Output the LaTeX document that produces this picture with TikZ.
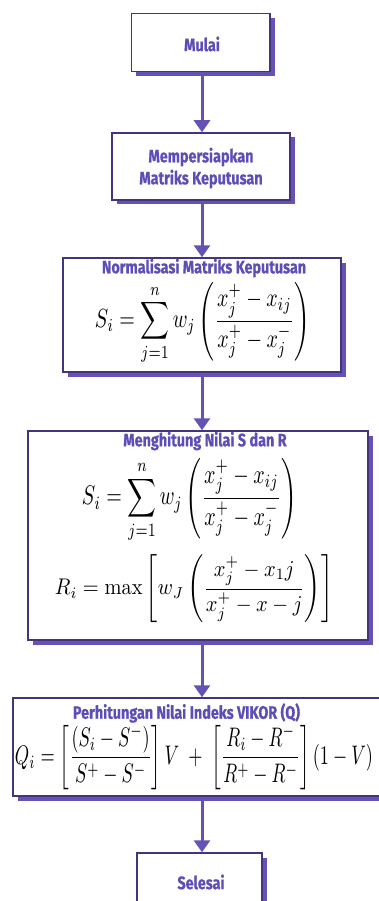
\documentclass[tikz,border=0pt]{standalone}
\usepackage{amsmath}
\usepackage{graphicx}
\usepackage{fontspec}
\newfontfamily\titlefont[FakeStretch=0.8, BoldFeatures={FakeBold=0.6}]{Fira Sans}
\usetikzlibrary{arrows.meta,shadows}
\definecolor{boxline}{HTML}{45337F}
\definecolor{shade}{HTML}{6652B5}
\definecolor{txt}{HTML}{5D4DB6}
\definecolor{arrowc}{HTML}{6652B5}
\begin{document}
\begin{tikzpicture}[x=1pt,y=-1pt,
  box/.style={draw=boxline, line width=1.5pt, fill=white, rectangle, inner sep=0pt,
    drop shadow={shadow xshift=4.5pt, shadow yshift=-4.5pt, fill=shade, opacity=1}},
  ttl/.style={text=txt, font=\titlefont\bfseries\fontsize{18}{22}\selectfont, align=center, inner sep=0pt},
  flow/.style={draw=arrowc, line width=3pt, -{Triangle[length=12pt,width=16pt]}},
  eq/.style={inner sep=0pt}]
\useasboundingbox (0,0) rectangle (378,901);
\coordinate (axis) at (202,0);
% boxes
\node[box, minimum width=138.5pt, minimum height=58pt] (b1) at (200.75,42.5) {};
\node[box, minimum width=178pt, minimum height=67pt] (b2) at (201,166.5) {};
\node[box, minimum width=278pt, minimum height=114pt] (b3) at (202,315) {};
\node[box, minimum width=340pt, minimum height=209pt] (b4) at (198,535.5) {};
\node[box, minimum width=379pt, minimum height=98pt] (b5) at (202.5,747) {};
\node[box, minimum width=125pt, minimum height=58pt] (b6) at (199.5,882) {};
% titles
\node[ttl] (t1) at (202,44) {Mulai};
\node[ttl] (t2) at (201,168) {Mempersiapkan\\Matriks Keputusan};
\node[ttl] (t3) at (204,268) {Normalisasi Matriks Keputusan};
\node[ttl] (t4) at (205,441) {Menghitung Nilai S dan R};
\node[ttl] (t5) at (186.5,713) {Perhitungan Nilai Indeks VIKOR (Q)};
\node[ttl] (t6) at (201,882) {Selesai};
% formulas
\node[eq] (f3) at (202.5,323.5) {\resizebox*{215pt}{83pt}{$\displaystyle S_i = \sum_{j=1}^{n} w_j \left(\frac{x_j^+ - x_{ij}}{x_j^+ - x_j^-}\right)$}};
\node[eq] (f4a) at (189.5,500.5) {\resizebox*{215pt}{85pt}{$\displaystyle S_i = \sum_{j=1}^{n} w_j \left(\frac{x_j^+ - x_{ij}}{x_j^+ - x_j^-}\right)$}};
\node[eq] (f4b) at (194,589) {\resizebox*{278pt}{68pt}{$\displaystyle R_i = \max\left[w_J\left(\frac{x_j^+ - x_1 j}{x_j^+ - x - j}\right)\right]$}};
\node[eq] (f5) at (194,757.5) {\resizebox*{358pt}{65pt}{$\displaystyle Q_i = \left[\frac{(S_i - S^-)}{S^+ - S^-}\right]V \;+\; \left[\frac{R_i - R^-}{R^+ - R^-}\right](1 - V)$}};
% arrows
\draw[flow] (b1.south -| axis) -- (b2.north -| axis);
\draw[flow] (b2.south -| axis) -- (b3.north -| axis);
\draw[flow] (b3.south -| axis) -- (b4.north -| axis);
\draw[flow] (b4.south -| axis) -- (b5.north -| axis);
\draw[flow] (b5.south -| axis) -- (b6.north -| axis);
\end{tikzpicture}
\end{document}
